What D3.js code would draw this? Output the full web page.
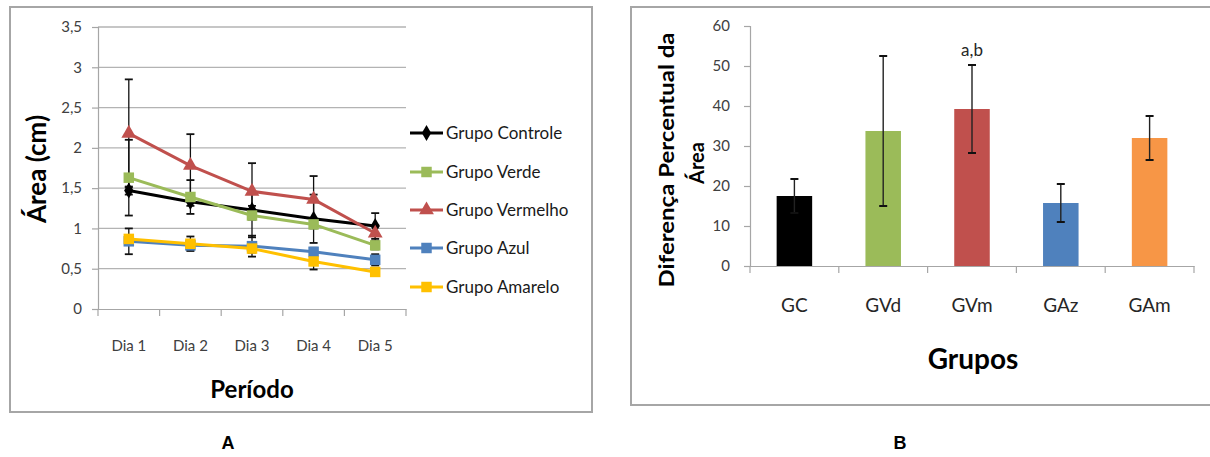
<!DOCTYPE html>
<html>
<head>
<meta charset="utf-8">
<script src="https://cdn.jsdelivr.net/npm/d3@7"></script>
<style>
  html, body { margin: 0; padding: 0; background: #fff; }
  svg { display: block; }
  text { font-family: Lato, "Open Sans", sans-serif; }
</style>
</head>
<body>
<svg id="chart" width="1210" height="457"></svg>
<script>
// ---- Panel A: wound area over time ----
const days = ["Dia 1", "Dia 2", "Dia 3", "Dia 4", "Dia 5"];
const seriesNames = ["Grupo Controle", "Grupo Verde", "Grupo Vermelho", "Grupo Azul", "Grupo Amarelo"];
const controle = [1.47, 1.33, 1.23, 1.12, 1.03];
const verde    = [1.63, 1.39, 1.16, 1.05, 0.79];
const vermelho = [2.18, 1.78, 1.46, 1.36, 0.94];
const azul     = [0.84, 0.79, 0.78, 0.71, 0.61];
const amarelo  = [0.87, 0.81, 0.75, 0.59, 0.46];
const errControle = [0.05, 0.05, 0.05, 0.30, 0.16];
const errVerde    = [0.47, 0.21, 0.27, 0.05, 0.05];
const errVermelho = [0.67, 0.39, 0.35, 0.29, 0.10];
const errAzul     = [0.16, 0.05, 0.13, 0.05, 0.07];
const errAmarelo  = [0.05, 0.09, 0.05, 0.10, 0.05];
const yTicksA = [0, 0.5, 1, 1.5, 2, 2.5, 3, 3.5];

// ---- Panel B: percentage difference of the area ----
const groups = ["GC", "GVd", "GVm", "GAz", "GAm"];
const diffPct = [17.5, 33.75, 39.25, 15.75, 32.0];
const diffErr = [4.25, 18.75, 11.0, 4.75, 5.5];
const yTicksB = [0, 10, 20, 30, 40, 50, 60];
const sigLabel = { GVm: "a,b" };

const lineColors = ["#000000", "#9BBB59", "#C0504D", "#4F81BD", "#FFC000"];
const barColors  = ["#000000", "#9BBB59", "#C0504D", "#4F81BD", "#F79646"];
const markerTypes = ["diamond", "square", "triangle", "square", "square"];

const svg = d3.select("#chart");
const fmtComma = d => String(d).replace(".", ",");

// panel frames
svg.append("rect").attr("x", 10).attr("y", 7).attr("width", 582).attr("height", 405)
  .attr("fill", "#fff").attr("stroke", "#a6a6a6").attr("stroke-width", 2);
svg.append("rect").attr("x", 631).attr("y", 7).attr("width", 600).attr("height", 398)
  .attr("fill", "#fff").attr("stroke", "#a6a6a6").attr("stroke-width", 2);

// ===================== Panel A =====================
const xA = d3.scaleBand().domain(days).range([98, 406]).padding(0);
const yA = d3.scaleLinear().domain([0, 3.5]).range([309, 27]);
const gA = svg.append("g");

// horizontal gridlines
gA.append("g").selectAll("line").data(yTicksA.filter(d => d > 0)).join("line")
  .attr("x1", 98).attr("x2", 406)
  .attr("y1", d => yA(d)).attr("y2", d => yA(d))
  .attr("stroke", "#b3b3b3").attr("stroke-width", 1.3);

// y axis
const axYA = gA.append("g").attr("transform", "translate(98,0)")
  .call(d3.axisLeft(yA).tickValues(yTicksA).tickFormat(fmtComma).tickSize(6).tickPadding(10));
// x axis
const axXA = gA.append("g").attr("transform", `translate(0,${yA(0)})`)
  .call(d3.axisBottom(xA).tickSize(0).tickPadding(31));
// category boundary ticks
gA.append("g").selectAll("line").data(d3.range(days.length + 1)).join("line")
  .attr("x1", i => 98 + i * xA.step()).attr("x2", i => 98 + i * xA.step())
  .attr("y1", yA(0)).attr("y2", yA(0) + 7)
  .attr("stroke", "#a6a6a6").attr("stroke-width", 1.2);

[axYA, axXA].forEach(ax => {
  ax.select(".domain").attr("stroke", "#a6a6a6").attr("stroke-width", 1.2);
  ax.selectAll(".tick line").attr("stroke", "#a6a6a6").attr("stroke-width", 1.2);
  ax.selectAll(".tick text").attr("fill", "#404040").style("font-size", "15px")
    .style("font-family", "Lato, sans-serif");
});

// series
const seriesVals = [controle, verde, vermelho, azul, amarelo];
const seriesErrs = [errControle, errVerde, errVermelho, errAzul, errAmarelo];
const cx = d => xA(d) + xA.bandwidth() / 2;
const line = d3.line().x((v, i) => cx(days[i])).y(v => yA(v));

function marker(sel, type, color, x, y) {
  let sym = d3.symbol(d3.symbolSquare, 110);
  if (type === "diamond") sym = d3.symbol(d3.symbolDiamond, 75);
  if (type === "triangle") sym = d3.symbol(d3.symbolTriangle, 95);
  sel.append("path").attr("d", sym()).attr("transform", `translate(${x},${y})`).attr("fill", color);
}

// error bars (beneath the lines)
const errG = gA.append("g");
seriesVals.forEach((vals, s) => {
  vals.forEach((v, i) => {
    const x = cx(days[i]);
    const e = seriesErrs[s][i];
    errG.append("line").attr("x1", x).attr("x2", x)
      .attr("y1", yA(v - e)).attr("y2", yA(v + e))
      .attr("stroke", "#111").attr("stroke-width", 1.3);
    [v - e, v + e].forEach(t => {
      errG.append("line").attr("x1", x - 4).attr("x2", x + 4)
        .attr("y1", yA(t)).attr("y2", yA(t))
        .attr("stroke", "#111").attr("stroke-width", 1.8);
    });
  });
});

// lines and markers
seriesVals.forEach((vals, s) => {
  const g = gA.append("g");
  g.append("path").datum(vals).attr("d", line)
    .attr("fill", "none").attr("stroke", lineColors[s]).attr("stroke-width", 3)
    .attr("stroke-linejoin", "round");
  vals.forEach((v, i) => marker(g, markerTypes[s], lineColors[s], cx(days[i]), yA(v)));
});

// legend
const legA = gA.append("g");
seriesNames.forEach((name, s) => {
  const y = [133, 172, 210, 248, 287][s];
  legA.append("line").attr("x1", 410).attr("x2", 443).attr("y1", y).attr("y2", y)
    .attr("stroke", lineColors[s]).attr("stroke-width", 3);
  marker(legA, markerTypes[s], lineColors[s], 426.5, y);
  legA.append("text").attr("x", 446).attr("y", y).attr("dy", "0.35em")
    .style("font-size", "17px").attr("fill", "#1a1a1a").text(name);
});

// axis titles
gA.append("text").attr("transform", "translate(37,169) rotate(-90)")
  .attr("text-anchor", "middle").attr("dy", "0.35em")
  .style("font-size", "26px").style("font-weight", "bold").text("Área (cm)");
gA.append("text").attr("x", 252).attr("y", 398).attr("text-anchor", "middle")
  .style("font-size", "24px").style("font-weight", "bold").text("Período");
svg.append("text").attr("x", 228).attr("y", 449).attr("text-anchor", "middle")
  .style("font-family", "'Liberation Sans', Arial, sans-serif")
  .style("font-size", "18px").style("font-weight", "bold").text("A");

// ===================== Panel B =====================
const xB = d3.scaleBand().domain(groups).range([750, 1194]).paddingInner(0.6).paddingOuter(0.3);
const xBcat = d3.scaleBand().domain(groups).range([750, 1194]).padding(0);
const yB = d3.scaleLinear().domain([0, 60]).range([266, 26]);
const gB = svg.append("g");

const axYB = gB.append("g").attr("transform", "translate(750,0)")
  .call(d3.axisLeft(yB).tickValues(yTicksB).tickSize(6).tickPadding(14));
const axXB = gB.append("g").attr("transform", `translate(0,${yB(0)})`)
  .call(d3.axisBottom(xBcat).tickSize(0).tickPadding(33));
gB.append("g").selectAll("line").data(d3.range(groups.length + 1)).join("line")
  .attr("x1", i => 750 + i * xBcat.step()).attr("x2", i => 750 + i * xBcat.step())
  .attr("y1", yB(0)).attr("y2", yB(0) + 7)
  .attr("stroke", "#a6a6a6").attr("stroke-width", 1.2);

axYB.select(".domain").attr("stroke", "#a6a6a6").attr("stroke-width", 1.2);
axYB.selectAll(".tick line").attr("stroke", "#a6a6a6").attr("stroke-width", 1.2);
axYB.selectAll(".tick text").attr("fill", "#404040").style("font-size", "15px")
  .style("font-family", "Lato, sans-serif");
axXB.select(".domain").attr("stroke", "#a6a6a6").attr("stroke-width", 1.2);
axXB.selectAll(".tick text").attr("fill", "#262626").style("font-size", "19px")
  .style("font-family", "Lato, sans-serif");

// bars
gB.append("g").selectAll("rect").data(groups).join("rect")
  .attr("x", d => xB(d)).attr("width", xB.bandwidth())
  .attr("y", (d, i) => yB(diffPct[i])).attr("height", (d, i) => yB(0) - yB(diffPct[i]))
  .attr("fill", (d, i) => barColors[i]);

// error bars
const eb = gB.append("g");
groups.forEach((gname, i) => {
  const x = xB(gname) + xB.bandwidth() / 2;
  const lo = diffPct[i] - diffErr[i], hi = diffPct[i] + diffErr[i];
  eb.append("line").attr("x1", x).attr("x2", x).attr("y1", yB(lo)).attr("y2", yB(hi))
    .attr("stroke", "#222").attr("stroke-width", 1.4);
  [lo, hi].forEach(t => eb.append("line").attr("x1", x - 4).attr("x2", x + 4)
    .attr("y1", yB(t)).attr("y2", yB(t)).attr("stroke", "#111").attr("stroke-width", 2));
});

// significance label
groups.forEach((gname, i) => {
  if (sigLabel[gname]) {
    gB.append("text").attr("x", xB(gname) + xB.bandwidth() / 2)
      .attr("y", yB(diffPct[i] + diffErr[i]) - 9).attr("text-anchor", "middle")
      .style("font-size", "17px").attr("fill", "#262626").text(sigLabel[gname]);
  }
});

// axis titles
gB.append("text").attr("transform", "translate(667,160) rotate(-90)")
  .attr("text-anchor", "middle").attr("dy", "0.35em")
  .attr("textLength", 255).attr("lengthAdjust", "spacingAndGlyphs")
  .style("font-size", "20px").style("font-weight", "bold").text("Diferença Percentual da");
gB.append("text").attr("transform", "translate(697,163) rotate(-90)")
  .attr("text-anchor", "middle").attr("dy", "0.35em")
  .style("font-size", "20px").style("font-weight", "bold").text("Área");
gB.append("text").attr("x", 973).attr("y", 369).attr("text-anchor", "middle")
  .style("font-size", "28px").style("font-weight", "bold").text("Grupos");
svg.append("text").attr("x", 900).attr("y", 449).attr("text-anchor", "middle")
  .style("font-family", "'Liberation Sans', Arial, sans-serif")
  .style("font-size", "18px").style("font-weight", "bold").text("B");
</script>
</body>
</html>
